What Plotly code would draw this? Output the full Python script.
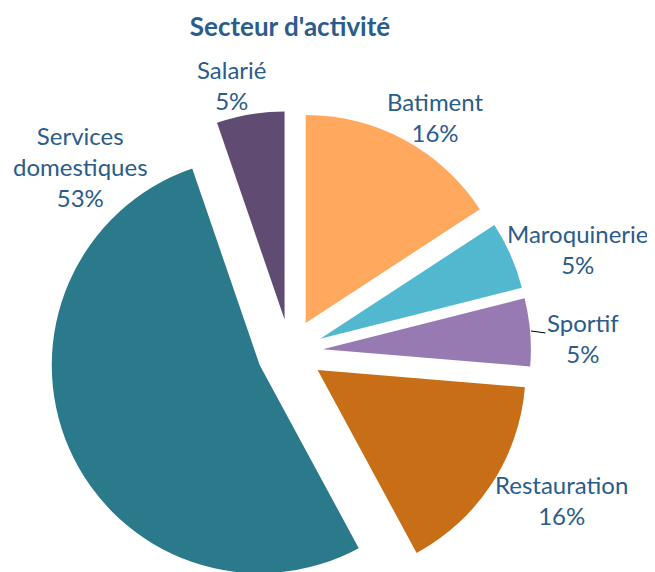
import math
import plotly.graph_objects as go

# Secteur d'activité (effectifs)
secteurs = ["Batiment", "Maroquinerie", "Sportif", "Restauration", "Services domestiques", "Salarié"]
etiquettes = ["Batiment", "Maroquinerie", "Sportif", "Restauration", "Services<br>domestiques", "Salarié"]
effectifs = [3, 1, 1, 3, 10, 1]
couleurs = ["#FFA85E", "#52B8D0", "#967AB1", "#C76E16", "#2B7A8B", "#604C72"]

# position des étiquettes (pixels de la fenêtre, origine en haut à gauche)
pos_etiquettes = [(436, 117), (578, 249), (583, 338), (561, 500), (80, 167), (232, 85)]

W, H = 655, 572
MARGE_PAGE = 8         # marge par défaut du <body>
CX, CY = 290, 352      # centre du camembert (pixels de la fenêtre)
R = 208                # rayon
ECART = 33             # décalage des parts (pixels)
total = sum(effectifs)


def px_x(x):
    return (x - MARGE_PAGE) / W


def px_y(y):
    return 1 - (y - MARGE_PAGE) / H


fig = go.Figure()

# une trace par part : chaque part est décalée le long de sa bissectrice
cumul = 0
for i, (nom, val) in enumerate(zip(secteurs, effectifs)):
    milieu = 2 * math.pi * (cumul + val / 2) / total
    cumul += val
    cx = CX + ECART * math.sin(milieu)
    cy = CY - ECART * math.cos(milieu)
    dom_x = [max(0, px_x(cx - R)), min(1, px_x(cx + R))]
    dom_y = [max(0, px_y(cy + R)), min(1, px_y(cy - R))]
    cols = ["rgba(0,0,0,0)"] * len(secteurs)
    cols[i] = couleurs[i]
    fig.add_trace(go.Pie(
        labels=secteurs,
        values=effectifs,
        textinfo="none",
        hoverinfo="label+percent",
        marker=dict(colors=cols, line=dict(width=0)),
        sort=False,
        direction="clockwise",
        rotation=0,
        showlegend=False,
        domain=dict(x=dom_x, y=dom_y),
    ))

police = dict(family="Lato", size=24, color="#2B5C8A")
for nom, val, (px, py) in zip(etiquettes, effectifs, pos_etiquettes):
    txt = f"{nom}<br>{round(100 * val / total)}%"
    if nom == "Sportif":
        fig.add_annotation(x=px_x(531), y=px_y(331), xref="paper", yref="paper",
                           text=txt, showarrow=True, arrowhead=0, arrowwidth=1,
                           arrowcolor="black", ax=px - 531, ay=py - 331, standoff=0,
                           xanchor="center", yanchor="middle", font=police)
    else:
        fig.add_annotation(x=px_x(px), y=px_y(py), xref="paper", yref="paper",
                           text=txt, showarrow=False,
                           xanchor="center", yanchor="middle", font=police)

fig.update_layout(
    width=W, height=H,
    margin=dict(l=0, r=0, t=0, b=0),
    paper_bgcolor="white",
    title=dict(text="<b>Secteur d'activité</b>", x=px_x(290), xanchor="center", y=px_y(27), yanchor="middle",
               font=dict(family="Lato", size=26, color="#2A5D8C")),
)

fig.write_html("out.html")
